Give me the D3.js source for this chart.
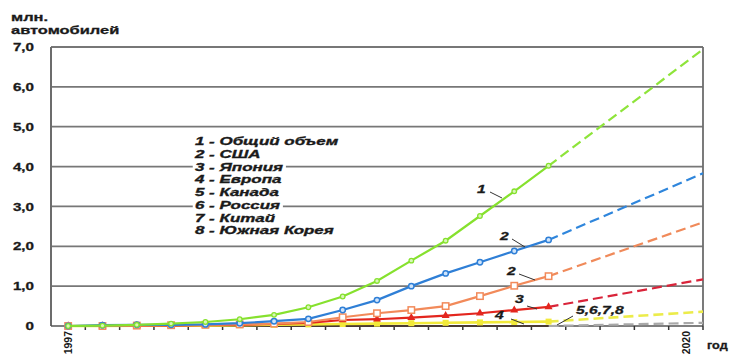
<!DOCTYPE html>
<html>
<head>
<meta charset="utf-8">
<script src="https://cdn.jsdelivr.net/npm/d3@7"></script>
<style>
  body { margin: 0; background: #fff; }
  text { font-family: "Liberation Sans", Arial, sans-serif; fill: #1a1a1a; }
</style>
</head>
<body>
<svg id="chart" width="730" height="356"></svg>
<script>
// Periods along the horizontal axis (only the first and last are labelled)
const periods = ["1997", "", "", "", "", "", "", "", "", "", "", "", "", "", "", "", "", "", "2020"];
const yTicks = [0, 1, 2, 3, 4, 5, 6, 7];

// Fleet of electric cars, mln. (observed part)
const total  = [0, 0.01, 0.03, 0.06, 0.10, 0.17, 0.28, 0.47, 0.74, 1.13, 1.64, 2.14, 2.76, 3.38, 4.02];
const usa    = [0, 0.02, 0.03, 0.03, 0.04, 0.07, 0.12, 0.18, 0.40, 0.65, 1.00, 1.32, 1.60, 1.88, 2.16];
const usa2   = [0, 0.00, 0.01, 0.02, 0.03, 0.04, 0.06, 0.10, 0.22, 0.32, 0.40, 0.50, 0.75, 1.01, 1.25];
const japan  = [0, 0.00, 0.01, 0.01, 0.02, 0.03, 0.05, 0.08, 0.15, 0.17, 0.21, 0.26, 0.32, 0.40, 0.48];
const europe = [0, 0.00, 0.01, 0.01, 0.01, 0.02, 0.03, 0.04, 0.05, 0.06, 0.07, 0.08, 0.09, 0.10, 0.11];
const others = [0, 0.00, 0.00, 0.00, 0.00, 0.00, 0.00, 0.00, 0.00, 0.00, 0.00, 0.00, 0.00, 0.00, 0.00];

// Forecast values reached at 2020
const forecast2020 = { total: 6.94, usa: 3.83, usa2: 2.60, japan: 1.17, europe: 0.36, others: 0.08 };

const legendLines = [
  "1 - Общий объем", "2 - США", "3 - Япония", "4 - Европа",
  "5 - Канада", "6 - Россия", "7 - Китай", "8 - Южная Корея"
];

const series = [
  { key: "others", values: others, color: "#4a3a34", dashColor: "#a9a9a9", marker: null },
  { key: "europe", values: europe, color: "#f2ea3a", dashColor: "#ecec4a", marker: "square-filled", width: 2.6 },
  { key: "japan",  values: japan,  color: "#e3261e", dashColor: "#d9243a", marker: "triangle" },
  { key: "usa2",   values: usa2,   color: "#f28a5a", dashColor: "#f08a5a", marker: "square" },
  { key: "usa",    values: usa,    color: "#2f7fd6", dashColor: "#2f86dc", marker: "circle" },
  { key: "total",  values: total,  color: "#86e12e", dashColor: "#8ee43a", marker: "circle-small" }
];

const SX = 1.32; // horizontal stretch of the lettering

const svg = d3.select("#chart");
const margin = { left: 51, right: 27, top: 47, bottom: 30 };
const W = 730, H = 356;
const x0 = margin.left, x1 = W - margin.right;
const y0 = H - margin.bottom, y1 = margin.top;

const x = d3.scaleBand().domain(d3.range(periods.length)).range([x0, x1]).paddingInner(0).paddingOuter(0);
const cx = i => x(i) + x.bandwidth() / 2;
const y = d3.scaleLinear().domain([0, 7]).range([y0, y1]);

function stretched(parent, px, py, str, opts = {}) {
  const g = parent.append("g").attr("transform", `translate(${px},${py}) scale(${opts.sx || SX},1)`);
  const t = g.append("text").text(str)
    .attr("font-size", opts.size || 12)
    .attr("font-weight", "bold")
    .attr("font-style", opts.italic ? "italic" : "normal")
    .attr("text-anchor", opts.anchor || "start")
    .attr("dy", opts.dy || 0);
  if (opts.stroke) t.attr("stroke", "#1a1a1a").attr("stroke-width", opts.stroke);
  return { g, t };
}

// Horizontal grid lines
svg.append("g").selectAll("line").data(yTicks.filter(v => v > 0)).join("line")
  .attr("x1", x0).attr("x2", x1)
  .attr("y1", d => y(d)).attr("y2", d => y(d))
  .attr("stroke", "#777").attr("stroke-width", 1.8);

// Frame: left axis, right border, bottom axis
svg.append("line").attr("x1", x0).attr("x2", x0).attr("y1", y1).attr("y2", y0)
  .attr("stroke", "#6c6c6c").attr("stroke-width", 2);
svg.append("line").attr("x1", x1).attr("x2", x1).attr("y1", y1).attr("y2", y0)
  .attr("stroke", "#6c6c6c").attr("stroke-width", 1.8);
svg.append("line").attr("x1", x0).attr("x2", x1).attr("y1", y0).attr("y2", y0)
  .attr("stroke", "#555").attr("stroke-width", 1.5);

// Ticks between periods
svg.append("g").selectAll("line").data(d3.range(1, periods.length + 1)).join("line")
  .attr("x1", d => x0 + d * x.bandwidth()).attr("x2", d => x0 + d * x.bandwidth())
  .attr("y1", y0).attr("y2", y0 + 4)
  .attr("stroke", "#333").attr("stroke-width", 1.5);

// Y tick labels
const fmt = v => v === 0 ? "0" : v.toFixed(1).replace(".", ",");
yTicks.forEach(v => stretched(svg, 34, y(v), fmt(v), { size: 11.5, anchor: "end", dy: "0.36em", stroke: 0.3 }));

// Y axis title
stretched(svg, 11, 21, "млн.", { size: 11.5, sx: 1.43, stroke: 0.3 });
stretched(svg, 11, 34, "автомобилей", { size: 11.5, sx: 1.43, stroke: 0.3 });

// X tick labels (rotated)
periods.forEach((p, i) => {
  if (!p) return;
  svg.append("text").text(p)
    .attr("transform", `translate(${cx(i) + 4},${y0 + 5}) rotate(-90)`)
    .attr("text-anchor", "end")
    .attr("font-size", 10.5).attr("font-weight", "bold");
});
stretched(svg, 707, 349, "год", { size: 11, sx: 1.15, stroke: 0.3 });

// Legend list with white backing so grid lines pass behind it
legendLines.forEach((s, i) => {
  const { g, t } = stretched(svg, 195, 145 + i * 12.75, s, { size: 11.3, italic: true, sx: 1.5, stroke: 0.35 });
  const b = t.node().getBBox();
  g.insert("rect", "text").attr("x", b.x - 1.5).attr("y", b.y + 1).attr("width", b.width + 3).attr("height", b.height - 2)
    .attr("fill", "#fff");
});

// Series: solid observed part, dashed forecast to 2020
const line = d3.line().x(d => d[0]).y(d => y(d[1]));
series.forEach(s => {
  const pts = s.values.map((v, i) => [cx(i), v]);
  const last = pts[pts.length - 1];
  svg.append("path").attr("d", line([last, [x1, forecast2020[s.key]]]))
    .attr("fill", "none").attr("stroke", s.dashColor).attr("stroke-width", s.width || 2.2)
    .attr("stroke-dasharray", "10,5");
  svg.append("path").attr("d", line(pts))
    .attr("fill", "none").attr("stroke", s.color).attr("stroke-width", s.width || 2.2);

  const g = svg.append("g");
  pts.forEach(p => {
    const px = p[0], py = y(p[1]);
    if (s.marker === "circle") {
      g.append("circle").attr("cx", px).attr("cy", py).attr("r", 2.7)
        .attr("fill", "#cfe4fb").attr("stroke", s.color).attr("stroke-width", 1.5);
    } else if (s.marker === "circle-small") {
      g.append("circle").attr("cx", px).attr("cy", py).attr("r", 2.3)
        .attr("fill", "#d8f6b8").attr("stroke", s.color).attr("stroke-width", 1.3);
    } else if (s.marker === "square") {
      g.append("rect").attr("x", px - 3.2).attr("y", py - 3.2).attr("width", 6.4).attr("height", 6.4)
        .attr("fill", "#fff").attr("stroke", s.color).attr("stroke-width", 1.5);
    } else if (s.marker === "square-filled") {
      g.append("rect").attr("x", px - 3).attr("y", py - 3).attr("width", 6).attr("height", 6)
        .attr("fill", s.color);
    } else if (s.marker === "triangle") {
      g.append("path").attr("d", d3.symbol(d3.symbolTriangle, 28)())
        .attr("transform", `translate(${px},${py})`).attr("fill", s.color);
    }
  });
});

// Series call-outs with leader lines
const callouts = [
  { text: "1",       tx: 477, ty: 193, lx1: 490, ly1: 192, lx2: 502, ly2: 198 },
  { text: "2",       tx: 500, ty: 240, lx1: 512, ly1: 239, lx2: 525, ly2: 247 },
  { text: "2",       tx: 507, ty: 275, lx1: 519, ly1: 274, lx2: 535, ly2: 280 },
  { text: "3",       tx: 515, ty: 303, lx1: 527, ly1: 306, lx2: 537, ly2: 309 },
  { text: "4",       tx: 495, ty: 319, lx1: 511, ly1: 319, lx2: 524, ly2: 324 },
  { text: "5,6,7,8", tx: 576, ty: 314, lx1: 573, ly1: 316, lx2: 557, ly2: 325 }
];
callouts.forEach(c => {
  svg.append("line").attr("x1", c.lx1).attr("y1", c.ly1).attr("x2", c.lx2).attr("y2", c.ly2)
    .attr("stroke", "#333").attr("stroke-width", 1);
  stretched(svg, c.tx, c.ty, c.text, { size: 11.5, italic: true, sx: 1.36, stroke: 0.3 });
});
</script>
</body>
</html>
